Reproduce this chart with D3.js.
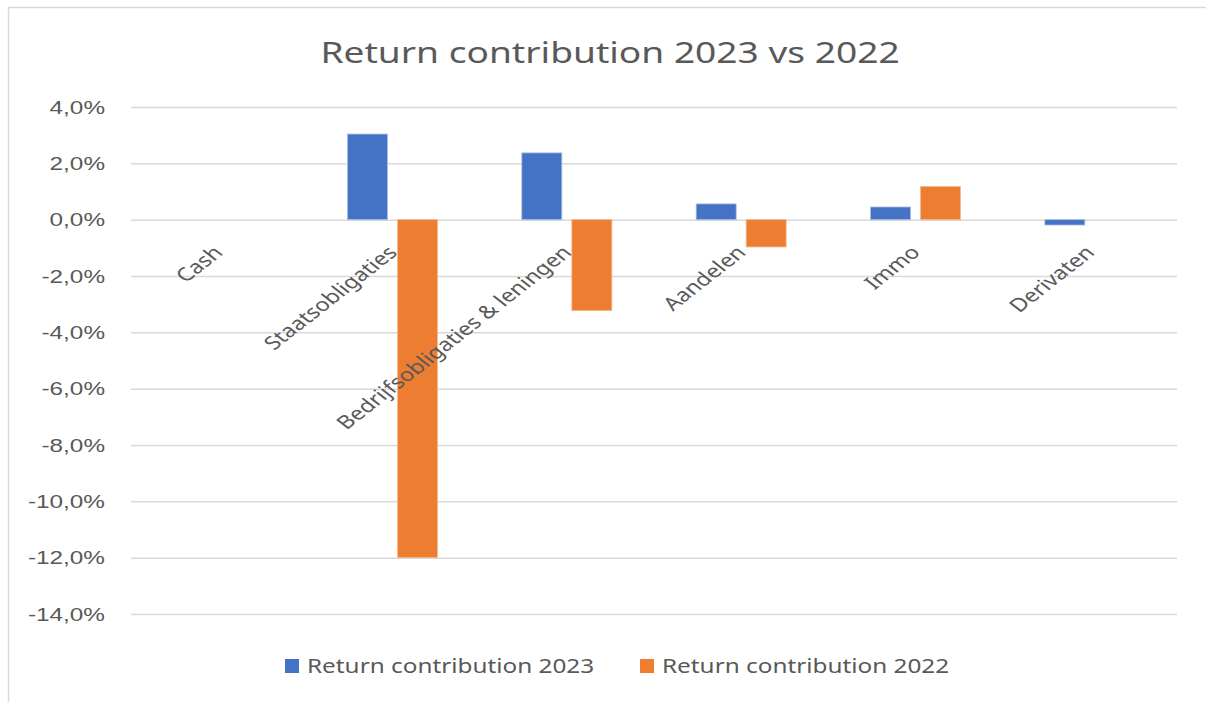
<!DOCTYPE html>
<html>
<head>
<meta charset="utf-8">
<script src="https://cdn.jsdelivr.net/npm/d3@7"></script>
<style>
  body { margin: 0; background: #fff; }
  svg { display: block; font-family: "Noto Sans", "Open Sans", sans-serif; }
</style>
</head>
<body>
<svg width="1206" height="702"></svg>
<script>
const svg = d3.select("svg");
const width = +svg.attr("width");
const height = +svg.attr("height");
const stretch = 1.28; // source picture is widened horizontally

// *** DATA ***
const categories = ["Cash", "Staatsobligaties", "Bedrijfsobligaties & leningen", "Aandelen", "Immo", "Derivaten"];
const seriesNames = ["Return contribution 2023", "Return contribution 2022"];
const values2023 = [0.0, 3.04, 2.37, 0.56, 0.45, -0.19];
const values2022 = [0.0, -12.0, -3.23, -0.97, 1.18, 0.0];
const yTicks = [4, 2, 0, -2, -4, -6, -8, -10, -12, -14];
const colors = ["#4472C4", "#ED7D31"];

const rows = categories.map((c, i) => ({
    category: c,
    values: [values2023[i], values2022[i]]
}));

// chart frame
svg.append("rect")
    .attr("x", 8.5).attr("y", 7.5)
    .attr("width", width + 20).attr("height", height + 20)
    .attr("fill", "#fff")
    .attr("stroke", "#d9d9d9")
    .attr("stroke-width", 1.5);

const plot = { left: 131, right: 1177, top: 107, bottom: 614 };

const x = d3.scaleBand()
    .domain(categories)
    .range([plot.left, plot.right]);

const xInner = d3.scaleBand()
    .domain([0, 1])
    .range([0, 90])
    .paddingInner(0.2);

const y = d3.scaleLinear()
    .domain([-14, 4])
    .range([plot.bottom, plot.top]);

// gridlines + y labels
const yAxis = d3.axisLeft(y)
    .tickValues(yTicks)
    .tickSize(-(plot.right - plot.left))
    .tickPadding(0)
    .tickFormat(d => d3.format(".1f")(d).replace(".", ",").replace("−", "-") + "%");

const gy = svg.append("g")
    .attr("transform", `translate(${plot.left},0)`)
    .call(yAxis);
gy.select(".domain").remove();
gy.selectAll(".tick line")
    .attr("stroke", "#d9d9d9")
    .attr("stroke-width", 1.5);
gy.selectAll(".tick text")
    .attr("x", null)
    .attr("transform", `translate(-26,0) scale(${stretch},1)`)
    .attr("fill", "#595959")
    .style("font-size", "19px");

// bars
const groups = svg.append("g")
    .selectAll("g")
    .data(rows)
    .join("g")
    .attr("transform", d => `translate(${x(d.category) + x.bandwidth() / 2 - 45},0)`);

groups.selectAll("rect")
    .data(d => d.values.map((v, i) => ({ v, i })))
    .join("rect")
    .attr("x", d => xInner(d.i))
    .attr("width", xInner.bandwidth())
    .attr("y", d => y(Math.max(0, d.v)))
    .attr("height", d => Math.abs(y(d.v) - y(0)))
    .attr("fill", d => colors[d.i])
    .attr("stroke", d => d.i === 0 ? "#a9bde6" : "#f5b890")
    .attr("stroke-width", 0.8);

// category labels (rotated, anchored under the zero line)
svg.append("g")
    .selectAll("text")
    .data(categories)
    .join("text")
    .attr("transform", d => `translate(${x(d) + x.bandwidth() / 2 + 6},${y(0) + 34}) scale(${stretch},1) rotate(-45)`)
    .attr("text-anchor", "end")
    .attr("fill", "#595959")
    .style("font-size", "18.5px")
    .text(d => d);

// title
svg.append("text")
    .attr("transform", `translate(610,63) scale(${stretch},1)`)
    .attr("text-anchor", "middle")
    .attr("fill", "#595959")
    .style("font-size", "29px")
    .text("Return contribution 2023 vs 2022");

// legend
const legendX = [285, 640];
const legend = svg.append("g")
    .selectAll("g")
    .data(seriesNames)
    .join("g")
    .attr("transform", (d, i) => `translate(${legendX[i]},666)`);

legend.append("rect")
    .attr("x", 0).attr("y", -7)
    .attr("width", 14).attr("height", 14)
    .attr("fill", (d, i) => colors[i]);

legend.append("text")
    .attr("transform", `translate(22,0) scale(${stretch},1)`)
    .attr("dy", "0.35em")
    .attr("fill", "#595959")
    .style("font-size", "19px")
    .text(d => d);
</script>
</body>
</html>
